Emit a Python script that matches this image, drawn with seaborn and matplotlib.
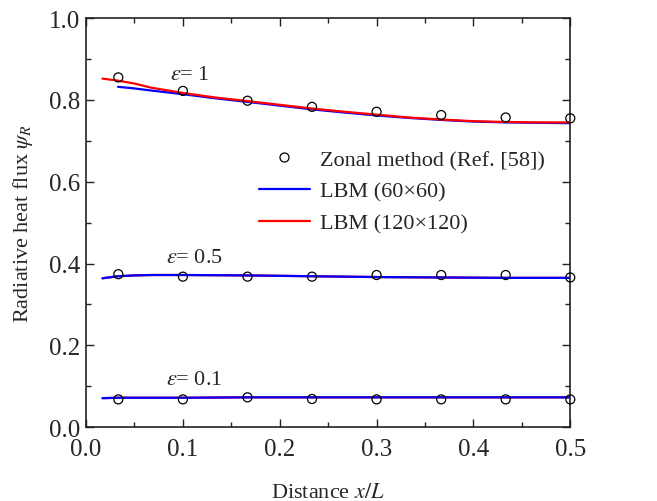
import matplotlib
matplotlib.use("Agg")
import matplotlib.pyplot as plt
import seaborn as sns
from matplotlib.lines import Line2D
from matplotlib.ticker import MultipleLocator, FormatStrFormatter

# ---- data ----
zonal_x = [0.0333, 0.1, 0.1667, 0.2333, 0.3, 0.3667, 0.4333, 0.5]
zonal_e1 = [0.855, 0.822, 0.798, 0.783, 0.771, 0.763, 0.757, 0.755]
zonal_e05 = [0.374, 0.368, 0.368, 0.368, 0.372, 0.372, 0.372, 0.366]
zonal_e01 = [0.068, 0.068, 0.073, 0.069, 0.068, 0.068, 0.068, 0.068]

lbm60_x_e1 = [0.033, 0.05, 0.067, 0.1, 0.133, 0.167, 0.2, 0.233, 0.267, 0.3, 0.333, 0.367, 0.4, 0.433, 0.467, 0.5]
lbm60_e1 = [0.832, 0.828, 0.823, 0.814, 0.804, 0.795, 0.786, 0.777, 0.769, 0.762, 0.756, 0.751, 0.747, 0.745, 0.744, 0.743]

lbm120_x_e1 = [0.017, 0.033, 0.05, 0.067, 0.1, 0.133, 0.167, 0.2, 0.233, 0.267, 0.3, 0.333, 0.367, 0.4, 0.433, 0.467, 0.5]
lbm120_e1 = [0.852, 0.847, 0.840, 0.830, 0.817, 0.806, 0.797, 0.788, 0.779, 0.771, 0.764, 0.757, 0.752, 0.748, 0.746, 0.745, 0.745]

lbm_x = [0.017, 0.033, 0.05, 0.067, 0.1, 0.167, 0.233, 0.3, 0.367, 0.433, 0.5]
lbm_e05 = [0.364, 0.369, 0.371, 0.372, 0.372, 0.371, 0.369, 0.367, 0.366, 0.365, 0.365]
lbm_e01 = [0.071, 0.072, 0.072, 0.072, 0.072, 0.073, 0.073, 0.073, 0.073, 0.073, 0.073]

labels = ["Zonal method (Ref. [58])", "LBM (60\u00d760)", "LBM (120\u00d7120)"]
eps_labels = [r"$\varepsilon$= 1", r"$\varepsilon$= 0.5", r"$\varepsilon$= 0.1"]

# ---- style ----
sns.set_style("ticks")
plt.rcParams["font.family"] = ["Liberation Serif", "DejaVu Serif"]
plt.rcParams["mathtext.fontset"] = "stix"
plt.rcParams["font.size"] = 16

BLUE = "#0000ff"
RED = "#ff0000"
LW = 1.6

fig = plt.figure(figsize=(6.57, 5.02), dpi=100)
ax = fig.add_axes([0.131, 0.147, 0.737, 0.815])

# red lines (120x120)
sns.lineplot(x=lbm120_x_e1, y=lbm120_e1, color=RED, lw=LW, ax=ax, zorder=3)
sns.lineplot(x=lbm_x, y=lbm_e05, color=RED, lw=LW, ax=ax, zorder=2)
sns.lineplot(x=lbm_x, y=lbm_e01, color=RED, lw=LW, ax=ax, zorder=2)
# blue lines (60x60)
sns.lineplot(x=lbm60_x_e1, y=lbm60_e1, color=BLUE, lw=LW, ax=ax, zorder=2)
sns.lineplot(x=lbm_x, y=lbm_e05, color=BLUE, lw=LW, ax=ax, zorder=3)
sns.lineplot(x=lbm_x, y=lbm_e01, color=BLUE, lw=LW, ax=ax, zorder=3)

for ys in (zonal_e1, zonal_e05, zonal_e01):
    sns.scatterplot(x=zonal_x, y=ys, marker="o", s=42, facecolor="none",
                    edgecolor="black", linewidth=0.9, ax=ax, zorder=4, clip_on=False)

ax.set_xlim(0.0, 0.5)
ax.set_ylim(0.0, 1.0)
ax.xaxis.set_major_locator(MultipleLocator(0.1))
ax.xaxis.set_minor_locator(MultipleLocator(0.05))
ax.yaxis.set_major_locator(MultipleLocator(0.2))
ax.yaxis.set_minor_locator(MultipleLocator(0.1))
ax.xaxis.set_major_formatter(FormatStrFormatter("%.1f"))
ax.yaxis.set_major_formatter(FormatStrFormatter("%.1f"))
ax.tick_params(which="both", direction="in", top=True, right=True, labelsize=18, color="#222222")
ax.tick_params(which="major", length=6, width=1)
ax.tick_params(which="minor", length=3.5, width=1)
ax.tick_params(axis="x", pad=8)
ax.tick_params(axis="y", pad=4)
for sp in ax.spines.values():
    sp.set_linewidth(1.2)
    sp.set_color("#222222")

ax.set_xlabel("Distance $x/L$", fontsize=16, labelpad=16)
ax.set_ylabel(r"Radiative heat flux $\psi_R$", fontsize=16, labelpad=10)

ax.text(0.087, 0.852, eps_labels[0], fontsize=16, ha="left", va="baseline")
ax.text(0.083, 0.405, eps_labels[1], fontsize=16, ha="left", va="baseline")
ax.text(0.083, 0.105, eps_labels[2], fontsize=16, ha="left", va="baseline")

handles = [
    Line2D([], [], ls="none", marker="o", markersize=6.5, markerfacecolor="none",
           markeredgecolor="black", markeredgewidth=0.9),
    Line2D([], [], color=BLUE, lw=LW),
    Line2D([], [], color=RED, lw=LW),
]
ax.legend(handles, labels, loc="upper left", bbox_to_anchor=(0.338, 0.70),
          frameon=False, fontsize=16, handlelength=2.3, handletextpad=0.45,
          labelspacing=0.5, borderaxespad=0)

fig.savefig("out.png", dpi=100)
